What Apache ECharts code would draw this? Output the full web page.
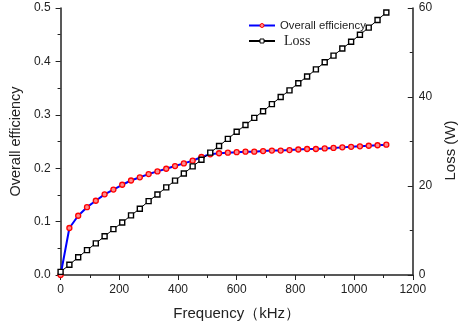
<!DOCTYPE html>
<html>
<head>
<meta charset="utf-8">
<script src="https://cdn.jsdelivr.net/npm/echarts@6/dist/echarts.min.js"></script>
<style>
html,body{margin:0;padding:0;background:#fff;}
#chart{width:466px;height:326px;}
</style>
</head>
<body>
<div id="chart"></div>
<script>
const frequency = [0,30,60,90,120,150,180,210,240,270,300,330,360,390,420,450,480,510,540,570,600,630,660,690,720,750,780,810,840,870,900,930,960,990,1020,1050,1080,1110];
const efficiency = [0.000,0.088,0.111,0.127,0.139,0.151,0.160,0.169,0.177,0.183,0.189,0.194,0.199,0.204,0.209,0.214,0.221,0.226,0.228,0.229,0.230,0.231,0.231,0.232,0.233,0.233,0.234,0.235,0.236,0.236,0.237,0.238,0.239,0.240,0.241,0.242,0.243,0.244];
const loss = [0.7,2.3,4.0,5.6,7.1,8.7,10.3,11.8,13.4,14.9,16.6,18.1,19.7,21.2,22.8,24.4,25.9,27.5,29.0,30.6,32.2,33.7,35.3,36.8,38.4,40.0,41.5,43.1,44.6,46.2,47.8,49.3,50.9,52.4,54.0,55.6,57.3,59.0];
const xTicks = [0,200,400,600,800,1000,1200];
const effTicks = [0.0,0.1,0.2,0.3,0.4,0.5];
const lossTicks = [0,20,40,60];

const chart = echarts.init(document.getElementById('chart'));
const axisCol = '#222';
const font = 'Liberation Sans, Arial, sans-serif';

const effData = frequency.map((f,i)=>[f,efficiency[i]]);
const lossData = frequency.map((f,i)=>[f,loss[i]]);

chart.setOption({
  animation:false,
  backgroundColor:'#fff',
  grid:{left:56,right:38,top:8,bottom:49,containLabel:false},
  legend:{
    orient:'vertical',
    left:243,
    top:15,
    itemWidth:26,
    itemHeight:5,
    itemGap:3,
    itemStyle:{borderWidth:1},
    data:[
      {name:'Overall efficiency',textStyle:{fontFamily:font,fontSize:11.3,color:'#222'}},
      {name:'Loss',textStyle:{fontFamily:'Liberation Serif, Times New Roman, serif',fontSize:14,color:'#222',padding:[0,0,0,4]}}
    ]
  },
  xAxis:{
    type:'value',
    min:xTicks[0],max:xTicks[xTicks.length-1],interval:200,
    name:'Frequency（kHz）',
    nameLocation:'middle',
    nameGap:31,
    nameTextStyle:{fontFamily:font,fontSize:15,color:'#222'},
    axisLine:{show:true,onZero:false,lineStyle:{color:axisCol,width:1.5}},
    axisTick:{show:true,length:5,lineStyle:{color:axisCol,width:1}},
    minorTick:{show:true,splitNumber:2,length:3,lineStyle:{color:axisCol,width:1}},
    axisLabel:{margin:9,fontFamily:font,fontSize:12,color:'#222',formatter:v=>String(v)},
    splitLine:{show:false}
  },
  yAxis:[
    {
      type:'value',position:'left',
      min:effTicks[0],max:effTicks[effTicks.length-1],interval:0.1,
      name:'Overall efficiency',
      nameLocation:'middle',
      nameGap:34,
      nameTextStyle:{fontFamily:font,fontSize:14.5,color:'#222'},
      axisLine:{show:true,onZero:false,lineStyle:{color:axisCol,width:1.5}},
      axisTick:{show:true,length:5,lineStyle:{color:axisCol,width:1}},
      minorTick:{show:true,splitNumber:2,length:3,lineStyle:{color:axisCol,width:1}},
      axisLabel:{margin:10,fontFamily:font,fontSize:12,color:'#222',formatter:v=>v.toFixed(1)},
      splitLine:{show:false}
    },
    {
      type:'value',position:'right',
      min:lossTicks[0],max:lossTicks[lossTicks.length-1],interval:20,
      name:'Loss (W)',
      nameLocation:'middle',
      nameRotate:90,
      nameGap:22,
      nameTextStyle:{fontFamily:font,fontSize:15,color:'#222',padding:[0,18,0,0]},
      axisLine:{show:true,onZero:false,lineStyle:{color:axisCol,width:1.5}},
      axisTick:{show:true,inside:true,length:5,lineStyle:{color:axisCol,width:1}},
      minorTick:{show:true,splitNumber:2,length:3,lineStyle:{color:axisCol,width:1}},
      axisLabel:{margin:6,fontFamily:font,fontSize:12,color:'#222',formatter:v=>String(v)},
      splitLine:{show:false}
    }
  ],
  series:[
    {
      name:'Overall efficiency',
      type:'line',
      yAxisIndex:0,
      data:effData,
      symbol:'circle',
      symbolSize:5,
      showAllSymbol:true,
      lineStyle:{color:'#0000ff',width:2},
      itemStyle:{color:'#ff8c8c',borderColor:'#ff0000',borderWidth:1.3},
      z:2
    },
    {
      name:'Loss',
      type:'line',
      yAxisIndex:1,
      data:lossData,
      symbol:'rect',
      symbolSize:5,
      showAllSymbol:true,
      lineStyle:{color:'#000000',width:1},
      itemStyle:{color:'#ffffff',borderColor:'#000000',borderWidth:1.4},
      z:3
    }
  ]
});
</script>
</body>
</html>
